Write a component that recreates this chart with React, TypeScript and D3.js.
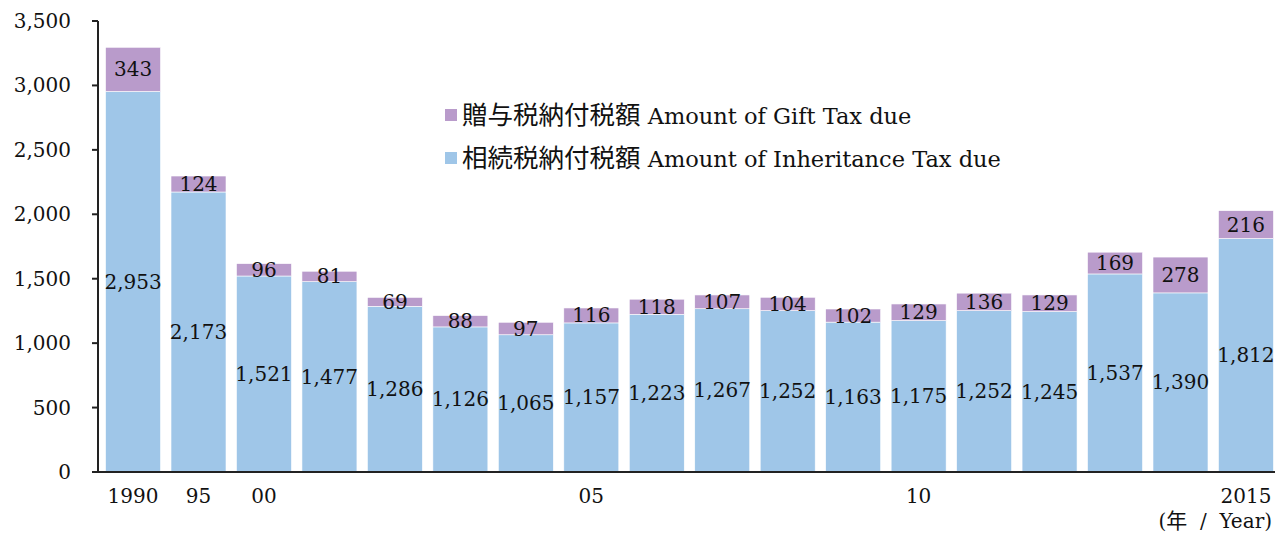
import React from "react";
import * as d3 from "d3";

const years = ["1990","1995","2000","2001","2002","2003","2004","2005","2006","2007","2008","2009","2010","2011","2012","2013","2014","2015"];
const tickLabels = ["1990","95","00","","","","","05","","","","","10","","","","","2015"];
const inheritance = [2953,2173,1521,1477,1286,1126,1065,1157,1223,1267,1252,1163,1175,1252,1245,1537,1390,1812];
const gift = [343,124,96,81,69,88,97,116,118,107,104,102,129,136,129,169,278,216];
const yTicks = [0,500,1000,1500,2000,2500,3000,3500];
const legendItems = [
  { jp: "贈与税納付税額", en: " Amount of Gift Tax due", color: "#B99BCB" },
  { jp: "相続税納付税額", en: " Amount of Inheritance Tax due", color: "#9FC6E8" },
];

const FONT = "'DejaVu Serif', 'Noto Sans CJK JP', serif";
const CJK = "'Noto Sans CJK JP', sans-serif";

export default function App() {
  const W = 1275, H = 533;
  const left = 98, right = 1275, top = 21, bottom = 472;
  const x = d3.scaleBand<string>().domain(years).range([99, 1280]).paddingInner(0.16).paddingOuter(0.1);
  const y = d3.scaleLinear().domain([0, 3500]).range([bottom, top]);
  const fmt = d3.format(",");
  const fs = 20;
  return (
    <svg width={W} height={H} style={{ position: "absolute", left: 0, top: 0, fontFamily: FONT }}>
      <rect width={W} height={H} fill="#fff" />
      {years.map((yr, i) => {
        const bx = x(yr)!;
        const bw = x.bandwidth();
        const inh = inheritance[i];
        const g = gift[i];
        return (
          <g key={yr}>
            <rect x={bx} y={y(inh)} width={bw} height={y(0) - y(inh)} fill="#9FC6E8" stroke="#fff" strokeWidth={0.6} />
            <rect x={bx} y={y(inh + g)} width={bw} height={y(inh) - y(inh + g)} fill="#B99BCB" stroke="#fff" strokeWidth={0.6} />
            <text x={bx + bw / 2} y={y(inh / 2)} textAnchor="middle" dominantBaseline="central" fontSize={fs} fill="#111">{fmt(inh)}</text>
            <text x={bx + bw / 2} y={y(inh + g / 2)} textAnchor="middle" dominantBaseline="central" fontSize={fs} fill="#111">{fmt(g)}</text>
            <text x={bx + bw / 2} y={503} textAnchor="middle" fontSize={fs} fill="#111">{tickLabels[i]}</text>
          </g>
        );
      })}
      {yTicks.map((t) => (
        <g key={t}>
          <line x1={92} x2={left} y1={y(t)} y2={y(t)} stroke="#222" strokeWidth={2} />
          <text x={71} y={y(t)} textAnchor="end" dominantBaseline="central" fontSize={fs} fill="#111">{fmt(t)}</text>
        </g>
      ))}
      <line x1={left} x2={left} y1={y(3500)} y2={bottom} stroke="#222" strokeWidth={2} />
      <line x1={92} x2={right} y1={bottom} y2={bottom} stroke="#222" strokeWidth={2} />
      <text x={1272} y={528} textAnchor="end" fontSize={20} fill="#111" style={{ whiteSpace: "pre" }}>
        <tspan>(</tspan>
        <tspan fontFamily={CJK} fontSize={21}>年</tspan>
        <tspan>{"  /  Year)"}</tspan>
      </text>
      {legendItems.map((it, i) => (
        <g key={it.jp}>
          <rect x={445} y={109 + i * 43} width={12} height={12} fill={it.color} />
          <text x={462} y={124 + i * 43} fontSize={22.5} fill="#111">
            <tspan fontFamily={CJK} fontSize={25.5}>{it.jp}</tspan>
            <tspan>{it.en}</tspan>
          </text>
        </g>
      ))}
    </svg>
  );
}
